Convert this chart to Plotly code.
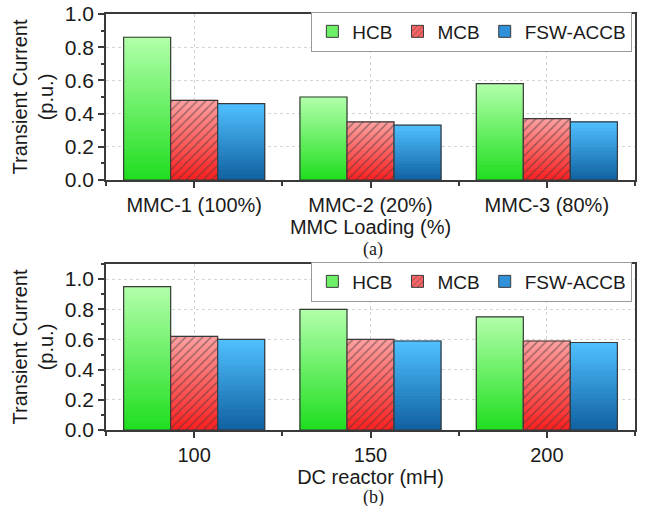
import plotly.graph_objects as go

# ---------------- data ----------------
series_names = ["HCB", "MCB", "FSW-ACCB"]

cats_a = ["MMC-1 (100%)", "MMC-2 (20%)", "MMC-3 (80%)"]
hcb_a = [0.86, 0.50, 0.58]
mcb_a = [0.48, 0.35, 0.37]
fsw_a = [0.46, 0.33, 0.35]

cats_b = ["100", "150", "200"]
hcb_b = [0.95, 0.80, 0.75]
mcb_b = [0.62, 0.60, 0.59]
fsw_b = [0.60, 0.59, 0.58]

yticks_a = [0.0, 0.2, 0.4, 0.6, 0.8, 1.0]
yticks_b = [0.0, 0.2, 0.4, 0.6, 0.8, 1.0]

# ---------------- styles ----------------
# (top colour, bottom colour) of each vertical gradient
grad = [((178, 255, 170), (30, 222, 30)),
        ((255, 160, 160), (255, 30, 30)),
        ((80, 192, 255), (16, 96, 160))]
mid = ["#6ef066", "#ff6666", "#3090d8"]
N_SEG = 40
GROUP = 0.8
FONT = "Liberation Sans, Arial, sans-serif"
TXT = "#1a1a1a"
LINE = "#3a3a3a"


def rgb(c):
    return "rgb(%d,%d,%d)" % c


def lerp(a, b, t):
    return tuple(round(a[i] + (b[i] - a[i]) * t) for i in range(3))


fig = go.Figure()


def add_panel(vals_list, cats, xa, ya, legend):
    n = len(series_names)
    w = GROUP / n
    xs = list(range(len(cats)))
    for j, vals in enumerate(vals_list):
        top, bot = grad[j]
        off = -GROUP / 2 + j * w
        for k in range(N_SEG):
            t = (k + 0.5) / N_SEG
            c = rgb(lerp(bot, top, t))
            fig.add_trace(go.Bar(
                x=xs, y=[v / N_SEG for v in vals],
                base=[v * k / N_SEG for v in vals],
                width=w, offset=off,
                marker=dict(color=c, line=dict(width=1, color=c)),
                xaxis=xa, yaxis=ya, showlegend=False, hoverinfo="skip"))
        pattern = dict(shape="/", fgcolor="#3a3a3a", bgcolor="rgba(0,0,0,0)",
                       size=6, solidity=0.25) if j == 1 else dict(shape="")
        fig.add_trace(go.Bar(
            x=xs, y=vals, width=w, offset=off, name=series_names[j],
            marker=dict(color="rgba(0,0,0,0)", line=dict(color=LINE, width=1.2),
                        pattern=pattern),
            xaxis=xa, yaxis=ya, showlegend=False))
        # legend entry
        fig.add_trace(go.Bar(
            x=[xs[0]], y=[None], width=w, offset=off, name=series_names[j],
            marker=dict(color=mid[j], line=dict(color=LINE, width=1),
                        pattern=dict(shape="/", fgcolor="#3a3a3a", size=5, solidity=0.25,
                                     fillmode="overlay") if j == 1 else dict(shape="")),
            xaxis=xa, yaxis=ya, legend=legend, showlegend=True))


add_panel([hcb_a, mcb_a, fsw_a], cats_a, "x", "y", "legend")
add_panel([hcb_b, mcb_b, fsw_b], cats_b, "x2", "y2", "legend2")

axis_common = dict(showline=True, linecolor=LINE, linewidth=1.5, mirror=True,
                   ticks="outside", tickcolor=LINE, tickwidth=1.5,
                   tickfont=dict(family=FONT, size=20, color=TXT),
                   showgrid=True, gridcolor="#d4d4d4", griddash="dot", gridwidth=1,
                   zeroline=False, automargin=False, ticklabeloverflow="allow")


def xaxis(cats, title, anchor):
    d = dict(axis_common)
    d.update(range=[-0.5, len(cats) - 0.5], tickmode="array",
             tickvals=list(range(len(cats))), ticktext=cats, ticklen=6,
             minor=dict(tickmode="array",
                        tickvals=[i + 0.5 for i in range(-1, len(cats))],
                        ticks="outside", ticklen=4, tickcolor=LINE, tickwidth=1.5,
                        showgrid=False),
             title=dict(text=title, font=dict(family=FONT, size=20, color=TXT), standoff=0),
             anchor=anchor, domain=[0, 1])
    return d


def yaxis(rng, ticks, domain, anchor):
    d = dict(axis_common)
    d.update(range=rng, tickmode="array", tickvals=ticks,
             ticktext=["%.1f" % v for v in ticks], ticklen=6,
             tickfont=dict(family=FONT, size=21, color=TXT),
             minor=dict(dtick=0.1, tick0=0, ticks="outside", ticklen=3,
                        tickcolor=LINE, tickwidth=1.5, showgrid=False),
             title=dict(text="Transient Current<br>(p.u.)",
                        font=dict(family=FONT, size=20, color=TXT), standoff=6),
             domain=domain, anchor=anchor)
    return d


legend_common = dict(orientation="h", xanchor="right", yanchor="top",
                     bgcolor="white", bordercolor="#9a9a9a", borderwidth=1,
                     font=dict(family=FONT, size=19, color=TXT),
                     traceorder="normal")

fig.update_layout(
    width=651, height=506,
    margin=dict(l=106, r=16, t=14, b=76, autoexpand=False),
    paper_bgcolor="white", plot_bgcolor="white",
    barmode="overlay",
    xaxis=xaxis(cats_a, "MMC Loading (%)", "y"),
    yaxis=yaxis([0, 1.0], yticks_a, [0.601, 1.0], "x"),
    xaxis2=xaxis(cats_b, "DC reactor (mH)", "y2"),
    yaxis2=yaxis([0, 1.1], yticks_b, [0.0, 0.399], "x2"),
    legend=dict(legend_common, x=0.995, y=1.006),
    legend2=dict(legend_common, x=0.995, y=0.405),
    annotations=[
        dict(text="(a)", xref="paper", yref="paper", x=0.505, y=0.435,
             showarrow=False, font=dict(family="Liberation Serif, Times New Roman, serif",
                                        size=18, color=TXT), yanchor="middle"),
        dict(text="(b)", xref="paper", yref="paper", x=0.505, y=-0.163,
             showarrow=False, font=dict(family="Liberation Serif, Times New Roman, serif",
                                        size=18, color=TXT), yanchor="middle"),
    ],
)

# remove the default 8px page margin so the figure fills the window exactly
fig.write_html("out.html", config={"displayModeBar": False},
               post_script="document.body.style.margin='0';")
